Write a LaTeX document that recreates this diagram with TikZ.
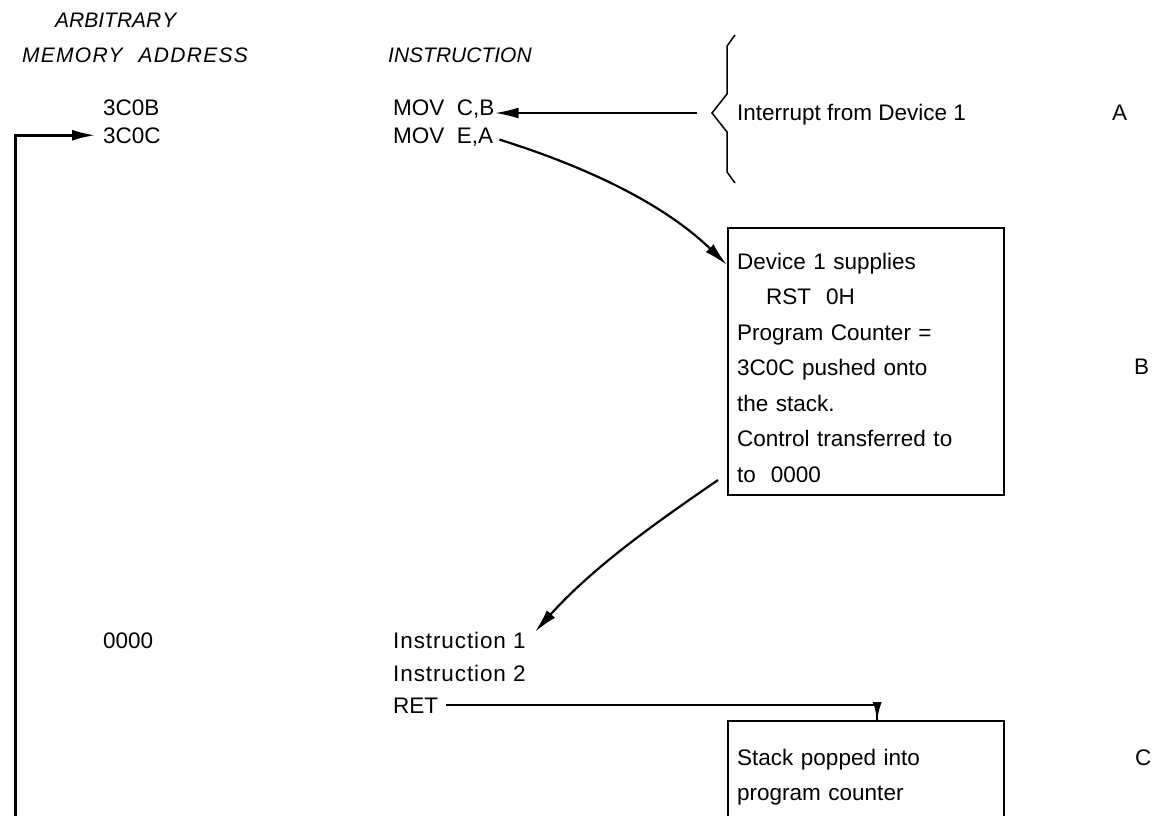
\documentclass[tikz,border=0pt]{standalone}
\usepackage{fontspec}
\setmainfont{Liberation Sans}
\usetikzlibrary{arrows.meta}
\begin{document}
\begin{tikzpicture}[x=1pt,y=-1pt,
  txt/.style={inner sep=0pt, anchor=base west, font=\fontsize{22.5}{35}\selectfont},
  hdr/.style={inner sep=0pt, anchor=base west, font=\fontsize{21}{24}\selectfont\itshape},
  arr/.style={line width=2.2pt, -{Latex[length=24pt,width=11pt]}},
  wire/.style={line width=2.2pt},
  box/.style={draw, line width=2.4pt, anchor=north west, inner xsep=9pt, align=left,
              text width=258pt, font=\fontsize{22.5}{35.5}\selectfont}]
\useasboundingbox (0,0) rectangle (1160,816);
\clip (0,0) rectangle (1160,816);
% headers
\node[hdr] (h1) at (55,28) {ARBITRAR\kern1ptY};
\node[hdr] (h2) at (22,63) {\addfontfeature{LetterSpace=6}MEMOR\kern1ptY\hspace{16pt}ADDRESS};
\node[hdr] (h3) at (388,63) {INSTRUCTION};
% addresses
\node[txt] (a1) at (103,115) {3C0B};
\node[txt] (a2) at (103,143) {3C0C};
\node[txt] (a3) at (103,648) {0000};
% instructions
\node[txt] (i1) at (393,115) {MOV\ \ C,B};
\node[txt] (i2) at (393,143) {MOV\ \ E,A};
\node[txt] (i3) at (393,648) {\addfontfeature{LetterSpace=4}Instruction 1};
\node[txt] (i4) at (393,681) {\addfontfeature{LetterSpace=4}Instruction 2};
\node[txt] (i5) at (393,713) {RET};
% interrupt
\node[txt] (intr) at (737,121) {Interrupt from Device 1};
\node[txt] (lA) at (1112,121) {A};
\node[txt] (lB) at (1134,374) {B};
\node[txt] (lC) at (1135,765) {C};
% brace
\coordinate (tip) at (712,113);
\draw[line width=1.5pt] (735,35) -- (727,46) -- (727,94) -- (tip) -- (727,132) -- (727,172) -- (735,183);
\coordinate (intrstart) at (697,113);
% boxes
\node[box, minimum height=267pt] (boxB) at (727,227) {\rule{0pt}{28pt}Device 1 supplies\\
\hspace*{29pt}RST\ \ 0H\\
Program Counter =\\
3C0C pushed onto\\
the stack.\\
Control transferred to\\
to\ \ 0000};
\node[box, minimum height=112pt] (boxC) at (727,720) {Stack popped into\\program counter};
% connectors
\draw[arr] (intrstart) -- (i1.east |- intrstart);
\draw[arr] ([xshift=6pt,yshift=-3pt]i2.east) .. controls (590,168) and (665,205) .. ([yshift=-38pt]boxB.north west);
\coordinate (bOut) at (718,480);
\draw[arr] (bOut) .. controls (660,520) and (595,565) .. ([xshift=9pt,yshift=8pt]i3.east);
\draw[wire] ([xshift=8pt]i5.east) -| ([xshift=11pt]boxC.north);
\draw[arr, -{Latex[length=18pt,width=9pt]}] ([xshift=11pt,yshift=16pt]boxC.north) -- ([xshift=11pt]boxC.north);
\coordinate (loopStart) at (15,830);
\draw[arr, line width=3pt] (loopStart) |- ([xshift=-7pt]a2.west);
\end{tikzpicture}
\end{document}
